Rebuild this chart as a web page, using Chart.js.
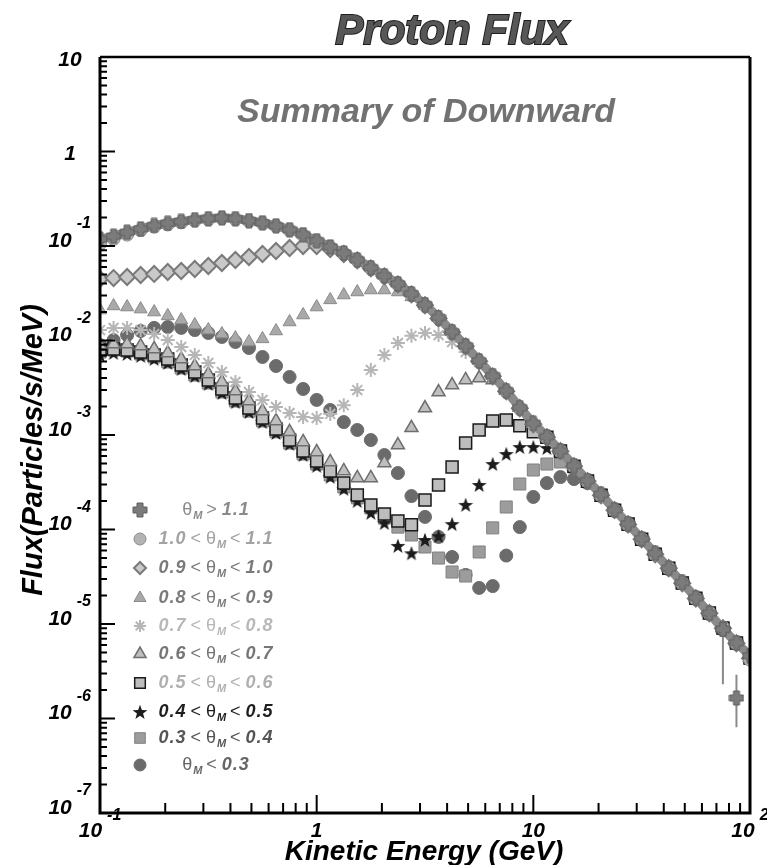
<!DOCTYPE html>
<html>
<head>
<meta charset="utf-8">
<script src="https://cdn.jsdelivr.net/npm/chart.js@4.4.1/dist/chart.umd.min.js"></script>
<style>
    html, body { margin: 0; padding: 0; background: #fff; }
    #wrap { width: 767px; height: 865px; }
</style>
</head>
<body>
<div id="wrap"><canvas id="flux-chart" width="767" height="865"></canvas></div>
<script>
/**
 * data (GeV, particles/s/MeV)
 */
const energyGeV = [0.1, 0.1155, 0.1334, 0.154, 0.1778, 0.2054, 0.2371, 0.2738, 0.3162, 0.3652, 0.4217, 0.487,
    0.5623, 0.6494, 0.7499, 0.866, 1, 1.155, 1.334, 1.54, 1.778, 2.054, 2.371, 2.738, 3.162, 3.652, 4.217, 4.87,
    5.623, 6.494, 7.499, 8.66, 10, 11.55, 13.34, 15.4, 17.78, 20.54, 23.71, 27.38, 31.62, 36.52, 42.17, 48.7,
    56.23, 64.94, 74.99, 86.6, 100];

const fluxThetaAbove11 = [0.118, 0.127, 0.140, 0.152, 0.165, 0.174, 0.182, 0.190, 0.195, 0.199, 0.195, 0.186,
    0.176, 0.164, 0.149, 0.132, 0.114, 0.0980, 0.0845, 0.0715, 0.0590, 0.0485, 0.0398, 0.0313, 0.0240, 0.0175,
    0.0124, 0.00880, 0.00610, 0.00425, 0.00295, 0.00195, 0.00133, 9.6e-4, 6.8e-4, 4.75e-4, 3.3e-4, 2.35e-4,
    1.62e-4, 1.15e-4, 8.0e-5, 5.6e-5, 3.9e-5, 2.75e-5, 1.9e-5, 1.3e-5, 8.8e-6, 6.35e-6, 4.6e-6];

// low-statistics points of the theta > 1.1 sample, with their error bars
const outlierEnergy = [74.99, 86.6];
const outlierFlux = [8.8e-6, 1.65e-6];
const outlierErrLow = [2.3e-6, 8.1e-7];
const outlierErrHigh = [8.8e-6, 2.9e-6];

const fluxTheta10to11 = [0.106, 0.119, 0.132, 0.147, 0.160, 0.169, 0.178, 0.186, 0.192, 0.197, 0.192, 0.183,
    0.174, 0.162, 0.147, 0.130, 0.112, 0.0970, 0.0840, 0.0708, 0.0582, 0.0480, 0.0394, 0.0309, 0.0236, 0.0172,
    0.0122, 0.00870, 0.00604, 0.00418, 0.00290, 0.00191, 0.00130, 9.45e-4, 6.75e-4, 4.68e-4, 3.24e-4, 2.30e-4,
    1.60e-4, 1.13e-4, 7.9e-5, 5.45e-5, 3.95e-5, 2.7e-5, 1.86e-5, 1.32e-5, 9.2e-6, 6.2e-6, 4.2e-6];

const fluxTheta09to10 = [0.0448, 0.0458, 0.0470, 0.0493, 0.0506, 0.0531, 0.0544, 0.0571, 0.0614, 0.0661, 0.0711,
    0.0765, 0.0823, 0.0885, 0.0953, 0.100, 0.100, 0.0929, 0.0823, 0.0705, 0.0580, 0.0478, 0.0393, 0.0308, 0.0236,
    0.0171, 0.0122, 0.00868, 0.00602, 0.00418, 0.00290, 0.00192, 0.00130, 9.45e-4, 6.73e-4, 4.66e-4, 3.24e-4,
    2.30e-4, 1.60e-4, 1.13e-4, 7.87e-5, 5.46e-5, 3.89e-5, 2.70e-5, 1.86e-5, 1.30e-5, 9.0e-6, 6.25e-6, 4.33e-6];

const fluxTheta08to09 = [0.0210, 0.0232, 0.0226, 0.0215, 0.0200, 0.0182, 0.0165, 0.0146, 0.0129, 0.0117, 0.0106,
    0.00964, 0.0104, 0.0126, 0.0157, 0.0186, 0.0226, 0.0269, 0.0303, 0.0326, 0.0342, 0.0342, 0.0326, 0.0289,
    0.0234, 0.0175, 0.0124, 0.00880, 0.00612, 0.00424, 0.00294, 0.00194, 0.00132, 9.58e-4, 6.82e-4, 4.73e-4,
    3.28e-4, 2.33e-4, 1.62e-4, 1.15e-4, 7.98e-5, 5.53e-5, 3.94e-5, 2.74e-5, 1.89e-5, 1.32e-5, 9.1e-6, 6.35e-6, 4.4e-6];

const fluxTheta07to08 = [0.0129, 0.0136, 0.0136, 0.0129, 0.0117, 0.0101, 0.00853, 0.00703, 0.00578, 0.00464,
    0.00364, 0.00285, 0.00235, 0.00198, 0.00171, 0.00155, 0.00151, 0.00167, 0.00207, 0.00299, 0.00488, 0.00703,
    0.00942, 0.0112, 0.0120, 0.0114, 0.00964, 0.00755, 0.00590, 0.00416, 0.00289, 0.00191, 0.00130, 9.42e-4,
    6.71e-4, 4.65e-4, 3.23e-4, 2.30e-4, 1.59e-4, 1.13e-4, 7.85e-5, 5.45e-5, 3.88e-5, 2.69e-5, 1.86e-5, 1.30e-5,
    8.98e-6, 6.24e-6, 4.33e-6];

const fluxTheta06to07 = [0.00896, 0.00918, 0.00918, 0.00875, 0.00813, 0.00738, 0.00637, 0.00537, 0.00442,
    0.00364, 0.00292, 0.00229, 0.00179, 0.00141, 0.00108, 8.44e-4, 6.61e-4, 5.18e-4, 4.16e-4, 3.51e-4, 3.51e-4,
    5.06e-4, 7.83e-4, 1.19e-3, 1.93e-3, 2.85e-3, 3.38e-3, 3.82e-3, 4.01e-3, 3.82e-3, 0.00295, 0.00195, 0.00132,
    9.6e-4, 6.84e-4, 4.74e-4, 3.29e-4, 2.34e-4, 1.62e-4, 1.15e-4, 8.0e-5, 5.55e-5, 3.95e-5, 2.74e-5, 1.9e-5,
    1.32e-5, 9.15e-6, 6.35e-6, 4.41e-6];

const fluxTheta05to06 = [0.00793, 0.00813, 0.00793, 0.00755, 0.00703, 0.00637, 0.00551, 0.00464, 0.00382,
    0.00307, 0.00247, 0.00193, 0.00151, 0.00116, 8.85e-4, 6.78e-4, 5.31e-4, 4.16e-4, 3.10e-4, 2.32e-4, 1.82e-4,
    1.46e-4, 1.23e-4, 1.12e-4, 2.05e-4, 2.96e-4, 4.58e-4, 8.22e-4, 1.13e-3, 1.41e-3, 1.44e-3, 1.25e-3, 1.08e-3,
    9.48e-4, 6.75e-4, 4.68e-4, 3.25e-4, 2.31e-4, 1.60e-4, 1.14e-4, 7.9e-5, 5.48e-5, 3.9e-5, 2.71e-5, 1.87e-5,
    1.31e-5, 9.05e-6, 6.28e-6, 4.36e-6];

const fluxTheta04to05 = [0.00703, 0.00738, 0.00720, 0.00686, 0.00637, 0.00578, 0.00499, 0.00421, 0.00347,
    0.00278, 0.00223, 0.00175, 0.00137, 0.00105, 8.04e-4, 6.14e-4, 4.70e-4, 3.60e-4, 2.69e-4, 2.00e-4, 1.50e-4,
    1.17e-4, 6.7e-5, 5.6e-5, 7.75e-5, 8.5e-5, 1.14e-4, 1.82e-4, 2.96e-4, 4.93e-4, 6.29e-4, 7.46e-4, 7.46e-4,
    7.28e-4, 6.61e-4, 4.72e-4, 3.27e-4, 2.33e-4, 1.61e-4, 1.14e-4, 7.95e-5, 5.52e-5, 3.93e-5, 2.73e-5, 1.88e-5,
    1.31e-5, 9.1e-6, 6.3e-6, 4.38e-6];

const fluxTheta03to04 = [0.00755, 0.00793, 0.00774, 0.00720, 0.00669, 0.00592, 0.00512, 0.00431, 0.00355,
    0.00285, 0.00229, 0.00179, 0.00141, 0.00108, 8.22e-4, 6.29e-4, 4.93e-4, 3.77e-4, 2.82e-4, 2.16e-4, 1.69e-4,
    1.32e-4, 1.06e-4, 8.75e-5, 6.53e-5, 4.99e-5, 3.55e-5, 3.22e-5, 5.78e-5, 1.04e-4, 1.73e-4, 3.03e-4, 4.26e-4,
    4.93e-4, 5.18e-4, 4.58e-4, 3.25e-4, 2.31e-4, 1.60e-4, 1.13e-4, 7.9e-5, 5.48e-5, 3.9e-5, 2.71e-5, 1.87e-5,
    1.3e-5, 9.0e-6, 6.27e-6, 4.35e-6];

const fluxThetaBelow03 = [0.00896, 0.0101, 0.0114, 0.0126, 0.0136, 0.0139, 0.0136, 0.0129, 0.0120, 0.0109,
    0.00964, 0.00833, 0.00669, 0.00537, 0.00411, 0.00307, 0.00235, 0.00184, 0.00137, 0.00113, 8.85e-4, 6.14e-4,
    3.96e-4, 2.26e-4, 1.36e-4, 8.34e-5, 5.12e-5, 3.31e-5, 2.41e-5, 2.52e-5, 5.3e-5, 1.06e-4, 2.21e-4, 3.10e-4,
    3.59e-4, 3.42e-4, 3.10e-4, 2.26e-4, 1.6e-4, 1.13e-4, 7.9e-5, 5.47e-5, 3.9e-5, 2.7e-5, 1.87e-5, 1.3e-5,
    9.0e-6, 6.25e-6, 4.34e-6];

// legend text pieces: low bound, relation, high bound
const legendLow = [null, "1.0", "0.9", "0.8", "0.7", "0.6", "0.5", "0.4", "0.3", null];
const legendRel = [">", "<", "<", "<", "<", "<", "<", "<", "<", "<"];
const legendHigh = ["1.1", "1.1", "1.0", "0.9", "0.8", "0.7", "0.6", "0.5", "0.4", "0.3"];

// axis ticks
const xTickValues = [0.1, 1, 10, 100];
const xTickLabels = [["10", "-1"], ["1", ""], ["10", ""], ["10", "2"]];
const yTickValues = [10, 1, 0.1, 0.01, 0.001, 1e-4, 1e-5, 1e-6, 1e-7];
const yTickLabels = [["10", ""], ["1", ""], ["10", "-1"], ["10", "-2"], ["10", "-3"], ["10", "-4"],
    ["10", "-5"], ["10", "-6"], ["10", "-7"]];

const FONT = "'Liberation Sans', Arial, Helvetica, sans-serif";

/**
 * custom marker shapes
 */
function makePlusMarker() {
    const c = document.createElement("canvas");
    c.width = 16; c.height = 16;
    const g = c.getContext("2d");
    g.beginPath();
    g.moveTo(5, 1); g.lineTo(11, 1); g.lineTo(11, 5); g.lineTo(15, 5); g.lineTo(15, 11);
    g.lineTo(11, 11); g.lineTo(11, 15); g.lineTo(5, 15); g.lineTo(5, 11); g.lineTo(1, 11);
    g.lineTo(1, 5); g.lineTo(5, 5); g.closePath();
    g.fillStyle = "#7b7b7b";
    g.fill();
    g.strokeStyle = "#5e5e5e";
    g.lineWidth = 1;
    g.stroke();
    return c;
}

function makeStarMarker() {
    const c = document.createElement("canvas");
    c.width = 16; c.height = 16;
    const g = c.getContext("2d");
    g.beginPath();
    for (let i = 0; i < 10; i++) {
        const r = i % 2 === 0 ? 7.8 : 3.2;
        const a = -Math.PI / 2 + i * Math.PI / 5;
        const px = 8 + r * Math.cos(a);
        const py = 8.6 + r * Math.sin(a);
        if (i === 0) g.moveTo(px, py); else g.lineTo(px, py);
    }
    g.closePath();
    g.fillStyle = "#1c1c1c";
    g.fill();
    return c;
}

const plusMarker = makePlusMarker();
const starMarker = makeStarMarker();

const seriesStyles = [
    { pointStyle: plusMarker, radius: 8, bg: "#7b7b7b", border: "#5e5e5e", bw: 1, text: "#8a8a8a" },
    { pointStyle: "circle", radius: 6.5, bg: "#b3b3b3", border: "#8c8c8c", bw: 1, text: "#a3a3a3" },
    { pointStyle: "rectRot", radius: 8, bg: "#c9c9c9", border: "#7a7a7a", bw: 2, text: "#7a7a7a" },
    { pointStyle: "triangle", radius: 7.5, bg: "#a9a9a9", border: "#8a8a8a", bw: 1, text: "#7a7a7a" },
    { pointStyle: "star", radius: 7, bg: "#b6b6b6", border: "#b6b6b6", bw: 2, text: "#b8b8b8" },
    { pointStyle: "triangle", radius: 7.5, bg: "#bfbfbf", border: "#6e6e6e", bw: 1.5, text: "#767676" },
    { pointStyle: "rect", radius: 8.5, bg: "#bdbdbd", border: "#1a1a1a", bw: 1.5, text: "#b0b0b0" },
    { pointStyle: starMarker, radius: 8, bg: "#1c1c1c", border: "#1c1c1c", bw: 1, text: "#1e1e1e" },
    { pointStyle: "rect", radius: 8.5, bg: "#9c9c9c", border: "#808080", bw: 1, text: "#555555" },
    { pointStyle: "circle", radius: 6.5, bg: "#6b6b6b", border: "#6b6b6b", bw: 1, text: "#666666" }
];

// legend marker sizes are a bit smaller than the plotted ones
const legendRadius = [7, 6, 6, 7, 6, 7, 7.5, 7, 7.5, 6];

const fluxSeries = [fluxThetaAbove11, fluxTheta10to11, fluxTheta09to10, fluxTheta08to09, fluxTheta07to08,
    fluxTheta06to07, fluxTheta05to06, fluxTheta04to05, fluxTheta03to04, fluxThetaBelow03];

// draw "10^n" style label
function drawPowLabel(ctx, base, exp, x, y, mode) {
    const baseFont = `italic bold 21px ${FONT}`;
    const expFont = `italic bold 16px ${FONT}`;
    ctx.font = baseFont;
    const wb = ctx.measureText(base).width;
    ctx.font = expFont;
    const we = exp ? ctx.measureText(exp).width : 0;
    const gap = exp ? 5 : 0;
    let x0;
    if (mode === "right") x0 = x - wb - gap - we;
    else x0 = x - (wb + gap + we) / 2;
    ctx.textAlign = "left";
    ctx.textBaseline = "middle";
    ctx.fillStyle = "#000";
    ctx.font = baseFont;
    ctx.fillText(base, x0, y);
    if (exp) {
        ctx.font = expFont;
        ctx.fillText(exp, x0 + wb + gap, y - (mode === "right" ? 17 : 15));
    }
}

function drawMarker(ctx, st, r, x, y) {
    ctx.save();
    ctx.fillStyle = st.bg;
    ctx.strokeStyle = st.border;
    ctx.lineWidth = st.bw;
    Chart.helpers.drawPoint(ctx, { pointStyle: st.pointStyle, radius: r, rotation: 0, borderWidth: st.bw }, x, y);
    ctx.restore();
}

function drawLegendRow(ctx, i, y) {
    const st = seriesStyles[i];
    drawMarker(ctx, st, legendRadius[i], 140, y);

    const numFont = `italic bold 18px ${FONT}`;
    const relFont = `18px ${FONT}`;
    const subFont = `italic bold 11px ${FONT}`;
    const parts = [];
    if (legendLow[i]) {
        parts.push({ t: legendLow[i], f: numFont, gap: 4 });
        parts.push({ t: "<", f: relFont, gap: 4 });
    }
    parts.push({ t: "\u03B8", f: relFont, gap: 0 });
    parts.push({ t: "M", f: subFont, gap: 3, dy: 6 });
    parts.push({ t: legendRel[i], f: relFont, gap: 4 });
    parts.push({ t: legendHigh[i], f: numFont, gap: 0 });

    ctx.save();
    ctx.letterSpacing = "1px";
    let total = 0;
    parts.forEach(p => { ctx.font = p.f; p.w = ctx.measureText(p.t).width; total += p.w + p.gap; });
    let px = 216 - total / 2;
    ctx.fillStyle = st.text;
    ctx.textAlign = "left";
    ctx.textBaseline = "middle";
    parts.forEach(p => {
        ctx.font = p.f;
        ctx.fillText(p.t, px, y + (p.dy || 0));
        px += p.w + p.gap;
    });
    ctx.restore();
}

/**
 * error bars of the outlier points, drawn under the markers
 */
const errorBarPlugin = {
    id: "errorBars",
    beforeDatasetsDraw(chart) {
        const { ctx, chartArea: a, scales: { x, y } } = chart;
        ctx.save();
        ctx.beginPath();
        ctx.rect(a.left, a.top, a.right - a.left, a.bottom - a.top);
        ctx.clip();
        ctx.strokeStyle = "#8a8a8a";
        ctx.lineWidth = 2;
        ctx.beginPath();
        outlierEnergy.forEach((e, i) => {
            const px = x.getPixelForValue(e);
            ctx.moveTo(px, y.getPixelForValue(outlierErrHigh[i]));
            ctx.lineTo(px, y.getPixelForValue(outlierErrLow[i]));
        });
        ctx.stroke();
        ctx.restore();
    }
};

/**
 * frame, inward ticks, labels, legend
 */
const decorPlugin = {
    id: "decor",
    afterDatasetsDraw(chart) {
        const { ctx, chartArea: a, scales: { x, y } } = chart;
        ctx.save();

        // minor / major ticks, pointing inward
        ctx.strokeStyle = "#000";
        ctx.lineWidth = 2;
        ctx.beginPath();
        for (let n = -7; n <= 0; n++) {
            for (let k = 1; k <= 9; k++) {
                const py = y.getPixelForValue(k * Math.pow(10, n));
                const len = k === 1 ? 15 : 7;
                ctx.moveTo(a.left, py);
                ctx.lineTo(a.left + len, py);
            }
        }
        for (let n = -1; n <= 1; n++) {
            for (let k = 1; k <= 9; k++) {
                const px = x.getPixelForValue(k * Math.pow(10, n));
                const len = k === 1 ? 18 : 10;
                ctx.moveTo(px, a.bottom);
                ctx.lineTo(px, a.bottom - len);
            }
        }
        ctx.stroke();

        // frame
        ctx.lineWidth = 3;
        ctx.beginPath();
        ctx.moveTo(a.left, a.top);
        ctx.lineTo(a.left, a.bottom);
        ctx.lineTo(a.right, a.bottom);
        ctx.lineTo(a.right, a.top);
        ctx.stroke();
        ctx.lineWidth = 2.5;
        ctx.beginPath();
        ctx.moveTo(a.left, a.top);
        ctx.lineTo(a.right, a.top);
        ctx.stroke();

        // tick labels
        yTickValues.forEach((v, i) => {
            const py = y.getPixelForValue(v);
            const [base, exp] = yTickLabels[i];
            if (exp) drawPowLabel(ctx, base, exp, 91, py - 5, "right");
            else drawPowLabel(ctx, base, exp, 70, py + 3, "center");
        });
        xTickValues.forEach((v, i) => {
            const px = x.getPixelForValue(v);
            const [base, exp] = xTickLabels[i];
            drawPowLabel(ctx, base, exp, px, 831, "center");
        });

        // titles
        ctx.textAlign = "center";
        ctx.textBaseline = "alphabetic";
        ctx.font = `italic bold 42px ${FONT}`;
        ctx.lineWidth = 2;
        ctx.strokeStyle = "#1e1e1e";
        ctx.strokeText("Proton Flux", 452, 44);
        ctx.fillStyle = "#575757";
        ctx.fillText("Proton Flux", 452, 44);

        ctx.font = `italic bold 34px ${FONT}`;
        ctx.fillStyle = "#727272";
        ctx.fillText("Summary of Downward", 426, 122);

        ctx.fillStyle = "#000";
        ctx.font = `italic bold 28px ${FONT}`;
        ctx.textBaseline = "middle";
        ctx.fillText("Kinetic Energy (GeV)", 424, 852);

        ctx.save();
        ctx.translate(34, 450);
        ctx.rotate(-Math.PI / 2);
        ctx.font = `italic bold 29px ${FONT}`;
        ctx.fillText("Flux(Particles/s/MeV)", 0, 0);
        ctx.restore();

        // legend
        const rowsY = [510, 539, 568, 598, 626, 654, 683, 712, 738, 765];
        rowsY.forEach((ry, i) => drawLegendRow(ctx, i, ry));

        ctx.restore();
    }
};

function initFluxChart() {
    const ctx = document.getElementById("flux-chart").getContext("2d");

    const datasets = fluxSeries.map((values, i) => {
        const st = seriesStyles[i];
        return {
            label: legendHigh[i],
            data: values.map((v, k) => ({ x: energyGeV[k], y: v })),
            showLine: i === 0,
            borderColor: "#8a8a8a",
            borderWidth: i === 0 ? 9 : 0,
            pointStyle: st.pointStyle,
            pointRadius: st.radius,
            pointBackgroundColor: st.bg,
            pointBorderColor: st.border,
            pointBorderWidth: st.bw,
            clip: 0
        };
    });

    // outliers share the theta > 1.1 marker
    datasets.unshift({
        label: "outliers",
        data: outlierEnergy.map((e, k) => ({ x: e, y: outlierFlux[k] })),
        showLine: false,
        pointStyle: plusMarker,
        pointRadius: 8,
        clip: 0
    });

    new Chart(ctx, {
        type: "scatter",
        data: { datasets: datasets },
        options: {
            responsive: false,
            animation: false,
            layout: { padding: { left: 100, top: 57, right: 17, bottom: 52 } },
            plugins: {
                legend: { display: false },
                tooltip: { enabled: false }
            },
            scales: {
                x: { type: "logarithmic", min: 0.1, max: 100, display: false },
                y: { type: "logarithmic", min: 1e-7, max: 10, display: false }
            }
        },
        plugins: [errorBarPlugin, decorPlugin]
    });
}

initFluxChart();
</script>
</body>
</html>
